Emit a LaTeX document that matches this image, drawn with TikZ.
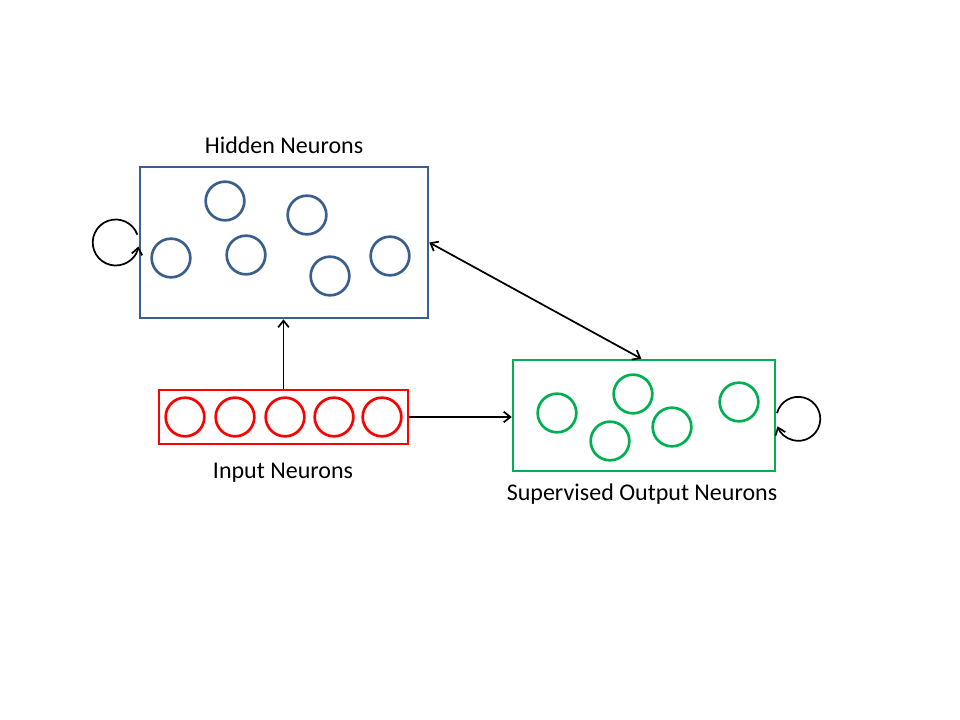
\documentclass[tikz,border=0pt]{standalone}
\usepackage{fontspec}
\setmainfont{Carlito}
\usepackage{xcolor}
\usetikzlibrary{positioning,fit,arrows.meta}
\definecolor{hidblue}{HTML}{3A5F8D}
\definecolor{inred}{HTML}{FF0000}
\definecolor{outgreen}{HTML}{00B050}

\begin{document}
\begin{tikzpicture}[x=0.75pt, y=0.75pt, >={Straight Barb[length=5pt,width=8pt]},
  neuron/.style={circle, draw, line width=2pt, minimum size=29pt, inner sep=0pt},
  layerbox/.style={draw, line width=1.9pt, inner sep=0pt},
  lbl/.style={font=\fontsize{18}{22}\selectfont, inner sep=0pt},
  link/.style={->, line width=1.3pt}]
 \useasboundingbox (0,0) rectangle (960,-720);
 % Layer boxes
 \node[layerbox, draw=hidblue, fit={(140,-167) (428,-318)}] (hid) {};
 \node[layerbox, draw=inred, fit={(159,-390) (408,-444)}] (inp) {};
 \node[layerbox, draw=outgreen, fit={(513,-360) (775,-471)}] (out) {};
 % Neurons
 \foreach \n/\x/\y in {1/225/201, 2/307/215, 3/171/258, 4/246/255, 5/330/276, 6/390/256}
  \node[neuron, draw=hidblue] (h\n) at (\x,-\y) {};
 \foreach \n/\x in {1/185, 2/235, 3/285, 4/334, 5/382}
  \node[neuron, draw=inred] (i\n) at (\x,-417) {};
 \foreach \n/\x/\y in {1/557/413, 2/633/394, 3/610/441, 4/672/427, 5/739/402}
  \node[neuron, draw=outgreen] (o\n) at (\x,-\y) {};
 % Labels
 \node[lbl] (hidlbl) at (284,-145) {Hidden Neurons};
 \node[lbl] (inplbl) at (283,-473) {Input Neurons};
 \node[lbl] (outlbl) at (642,-494) {Supervised Output Neurons};
 % Connections
 \draw[link] (inp.north) -- (inp.north |- hid.south);
 \draw[link] (inp.east) -- (inp.east -| out.west);
 \draw[link, <->] (hid.east) -- ([xshift=-2]out.north);
 % Recurrent loops
 \draw[link] (hid.west) ++(-23,0) ++(20:23) arc[start angle=20, end angle=350, radius=23];
 \draw[link] ([yshift=-2.5]out.east) ++(22,0) ++(165:22) arc[start angle=165, end angle=-160, radius=22];
\end{tikzpicture}
\end{document}
